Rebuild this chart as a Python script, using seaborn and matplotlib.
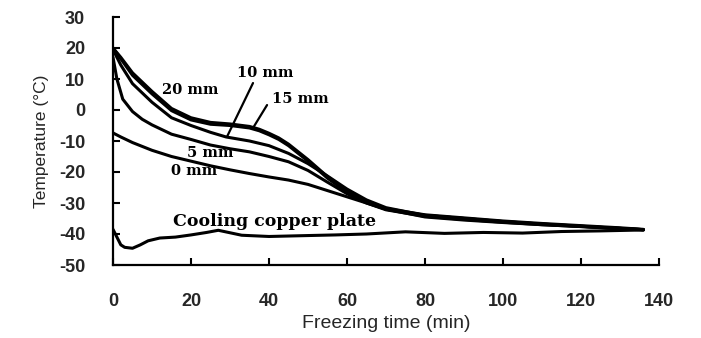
import numpy as np
import pandas as pd
import matplotlib
matplotlib.use("Agg")
import matplotlib.pyplot as plt
import seaborn as sns

# ---- data ----
x_20 = [0, 2, 5, 10, 15, 20, 25, 30, 35, 37.5, 40, 42.5, 45, 50, 55, 60, 65, 70, 80, 90, 100, 110, 120, 130, 136]
y_20 = [20, 17, 12, 6, 0.5, -2.5, -4, -4.5, -5.3, -6.2, -7.5, -9, -11, -16, -21.5, -26, -29.5, -31.8, -33.8, -34.8, -35.8, -36.6, -37.3, -38, -38.5]

x_15 = [0, 2, 5, 10, 15, 20, 25, 30, 35, 37.5, 40, 42.5, 45, 50, 55, 60, 65, 70, 80, 90, 100, 110, 120, 130, 136]
y_15 = [20, 16.5, 11.2, 5.2, -0.2, -3.2, -4.6, -5, -5.8, -6.7, -8, -9.5, -11.5, -16.5, -22, -26.5, -29.8, -32, -34, -35, -36, -36.8, -37.5, -38.2, -38.6]

x_10 = [0, 2, 5, 10, 15, 20, 25, 29, 35, 40, 45, 50, 55, 60, 65, 70, 80, 90, 100, 110, 120, 130, 136]
y_10 = [19.5, 14.5, 8.5, 2.5, -2.5, -5, -7.2, -8.7, -10, -11.5, -14, -17.3, -21.3, -25.5, -29, -31.5, -34, -35, -36, -36.8, -37.5, -38.2, -38.6]

x_5 = [0, 1, 2.5, 5, 7.5, 10, 15, 20, 25, 30, 35, 40, 45, 50, 55, 60, 65, 70, 80, 90, 100, 110, 120, 130, 136]
y_5 = [17, 10, 3.5, -0.5, -3, -4.8, -7.8, -9.5, -11.3, -12.5, -13.5, -15, -16.7, -19.5, -23.3, -27, -30, -32.2, -34.3, -35.3, -36.2, -37, -37.6, -38.3, -38.7]

x_0 = [0, 2, 5, 10, 15, 20, 25, 30, 35, 40, 45, 50, 55, 60, 65, 70, 80, 90, 100, 110, 120, 130, 136]
y_0 = [-7.4, -8.7, -10.5, -13, -15, -16.5, -18, -19.3, -20.5, -21.6, -22.6, -24, -26, -28, -30, -32, -34.5, -35.5, -36.3, -37, -37.6, -38.2, -38.6]

x_plate = [0, 1, 2, 3, 5, 7, 9, 12, 16, 20, 24, 27, 30, 33, 40, 50, 57, 65, 75, 85, 95, 105, 115, 125, 136]
y_plate = [-38.5, -41, -43.5, -44.3, -44.6, -43.5, -42.2, -41.3, -41, -40.3, -39.5, -38.8, -39.6, -40.4, -40.8, -40.5, -40.3, -40, -39.3, -39.8, -39.5, -39.7, -39.2, -39, -38.7]

series_names = ["20 mm", "15 mm", "10 mm", "5 mm", "0 mm", "Cooling copper plate"]
series_x = [x_20, x_15, x_10, x_5, x_0, x_plate]
series_y = [y_20, y_15, y_10, y_5, y_0, y_plate]

x_ticks = [0, 20, 40, 60, 80, 100, 120, 140]
y_ticks = [30, 20, 10, 0, -10, -20, -30, -40, -50]

df = pd.concat([pd.DataFrame({"time": xs, "temp": ys, "series": n})
                for n, xs, ys in zip(series_names, series_x, series_y)],
               ignore_index=True)

sns.set_theme(style="white")
plt.rcParams["font.family"] = ["Liberation Sans", "DejaVu Sans"]

fig = plt.figure(figsize=(7.01, 3.38), dpi=100)
ax = fig.add_axes([113 / 701, 1 - 265 / 338, (659 - 113) / 701, (265 - 17) / 338])

sns.lineplot(data=df, x="time", y="temp", hue="series", units="series",
             estimator=None, sort=False,
             palette={n: "black" for n in series_names},
             linewidth=2.2, legend=False, ax=ax)

ax.set_xlim(0, 140)
ax.set_ylim(-50, 30)
ax.set_xticks(x_ticks)
ax.set_yticks(y_ticks)
ax.set_xticklabels([str(t) for t in x_ticks], fontsize=13, fontweight="bold")
ax.set_yticklabels([str(t) for t in y_ticks], fontsize=13, fontweight="bold")
ax.tick_params(axis="both", direction="in", length=5, width=1.5, color="black",
               bottom=True, left=True)
ax.tick_params(axis="x", pad=20)
ax.tick_params(axis="y", pad=20)

for s in ["top", "right"]:
    ax.spines[s].set_visible(False)
for s in ["left", "bottom"]:
    ax.spines[s].set_color("black")
    ax.spines[s].set_linewidth(1.6)

ax.set_xlabel("Freezing time (min)", fontsize=14, labelpad=4)
ax.set_ylabel("Temperature (°C)", fontsize=12.5, labelpad=7)

serif = dict(family=["DejaVu Serif"], fontweight="bold",
             ha="center", va="center", color="black")
ax.text(19.8, 6.3, "20 mm", fontsize=10.5, **serif)
ax.text(39.0, 11.9, "10 mm", fontsize=10.5, **serif)
ax.text(48.0, 3.5, "15 mm", fontsize=10.5, **serif)
ax.text(24.9, -13.9, "5 mm", fontsize=10.5, **serif)
ax.text(20.8, -19.7, "0 mm", fontsize=10.5, **serif)
ax.text(41.5, -36.1, "Cooling copper plate", fontsize=12.5, **serif)

ax.plot([35.9, 29.2], [8.7, -8.7], color="black", lw=1.6)
ax.plot([39.5, 35.9], [1.6, -5.8], color="black", lw=1.6)

fig.savefig("out.png", dpi=100)
